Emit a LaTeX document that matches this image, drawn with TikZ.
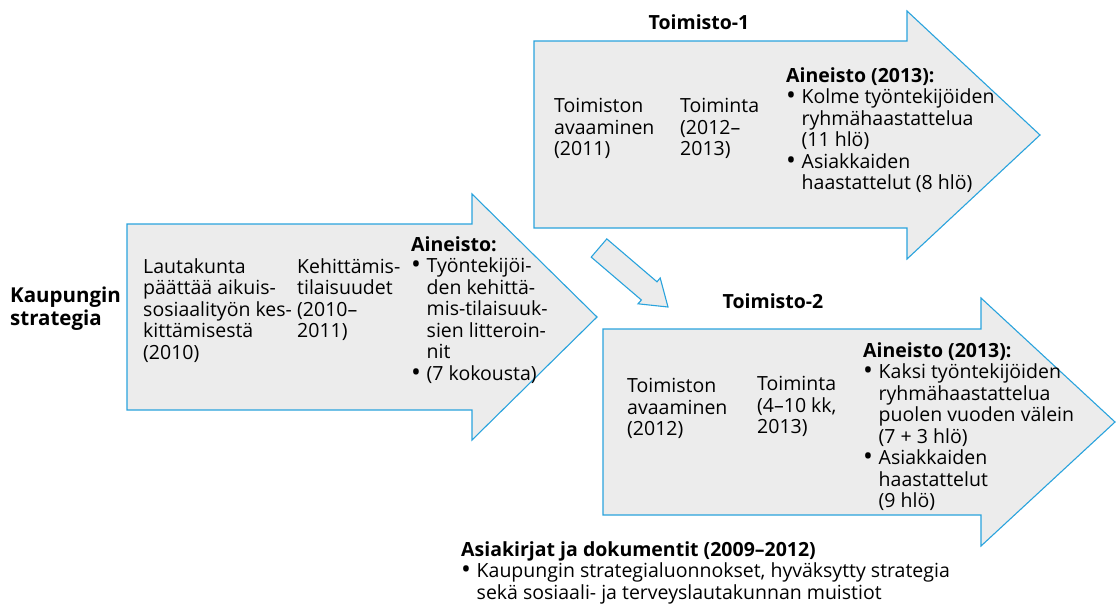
\documentclass[tikz,border=0pt]{standalone}
\usepackage{fontspec}
\usepackage{graphicx}
\setmainfont{Open Sans}
\definecolor{abl}{RGB}{41,163,221}
\definecolor{agr}{RGB}{236,236,236}
\newcommand\bul{\makebox[15.5pt][l]{\raisebox{-0.06em}{\scalebox{1.35}{\textbullet}}}}
\newcommand\ind{\hspace*{15.5pt}}
\tikzset{
  arrowshape/.style={draw=abl, fill=agr, line width=1.1pt, line join=miter},
  txt/.style={anchor=north west, inner sep=0pt, align=left, font=\fontsize{19.5}{21.5}\selectfont},
  ttl/.style={anchor=center, inner sep=0pt, font=\fontsize{19.5}{21.5}\selectfont\bfseries},
}
\begin{document}
\begin{tikzpicture}[x=1pt,y=-1pt]
\useasboundingbox (0,0) rectangle (1117,603);
% arrow shapes
\draw[arrowshape] (127,224) -- (472,224) -- (472,194) -- (597,317) -- (472,440) -- (472,410) -- (127,410) -- cycle;
\draw[arrowshape] (534,41) -- (907,41) -- (907,11) -- (1040,135) -- (907,259) -- (907,228) -- (534,228) -- cycle;
\draw[arrowshape] (603,329) -- (981,329) -- (981,298) -- (1115,422) -- (981,546) -- (981,515) -- (603,515) -- cycle;
\draw[arrowshape] (606.8,238.9) -- (657,281.8) -- (660.2,278) -- (668,307) -- (638,303.8) -- (641.4,300) -- (591.2,257.1) -- cycle;
% left
\node[txt, font=\fontsize{20.5}{22.5}\selectfont\bfseries] (kaup) at (10,287) {Kaupungin\\strategia};
\node[txt] (laut) at (143,258) {Lautakunta\\päättää aikuis-\\sosiaalityön kes-\\kittämisestä\\(2010)};
\node[txt] (keh) at (297,258) {Kehittämis-\\tilaisuudet\\(2010–\\2011)};
\node[txt] (ain3) at (411,236) {\textbf{Aineisto:}\\\bul Työntekijöi-\\\ind den kehittä-\\\ind mis-tilaisuuk-\\\ind sien litteroin-\\\ind nit\\\bul (7 kokousta)};
% Toimisto-1
\node[ttl] (t1) at (699,22) {Toimisto-1};
\node[txt] (ava1) at (554,98) {Toimiston\\avaaminen\\(2011)};
\node[txt] (toi1) at (680,98) {Toiminta\\(2012–\\2013)};
\node[txt] (ain1) at (786,67) {\textbf{Aineisto (2013):}\\\bul Kolme työntekijöiden\\\ind ryhmähaastattelua\\\ind (11 hlö)\\\bul Asiakkaiden\\\ind haastattelut (8 hlö)};
% Toimisto-2
\node[ttl] (t2) at (773,301) {Toimisto-2};
\node[txt] (ava2) at (627,378) {Toimiston\\avaaminen\\(2012)};
\node[txt] (toi2) at (757,376) {Toiminta\\(4–10 kk,\\2013)};
\node[txt] (ain2) at (863,342) {\textbf{Aineisto (2013):}\\\bul Kaksi työntekijöiden\\\ind ryhmähaastattelua\\\ind puolen vuoden välein\\\ind (7 + 3 hlö)\\\bul Asiakkaiden\\\ind haastattelut\\\ind (9 hlö)};
% bottom
\node[txt] (doc) at (461,541) {\textbf{Asiakirjat ja dokumentit (2009–2012)}\\\bul Kaupungin strategialuonnokset, hyväksytty strategia\\\ind sekä sosiaali- ja terveyslautakunnan muistiot};
\end{tikzpicture}
\end{document}
